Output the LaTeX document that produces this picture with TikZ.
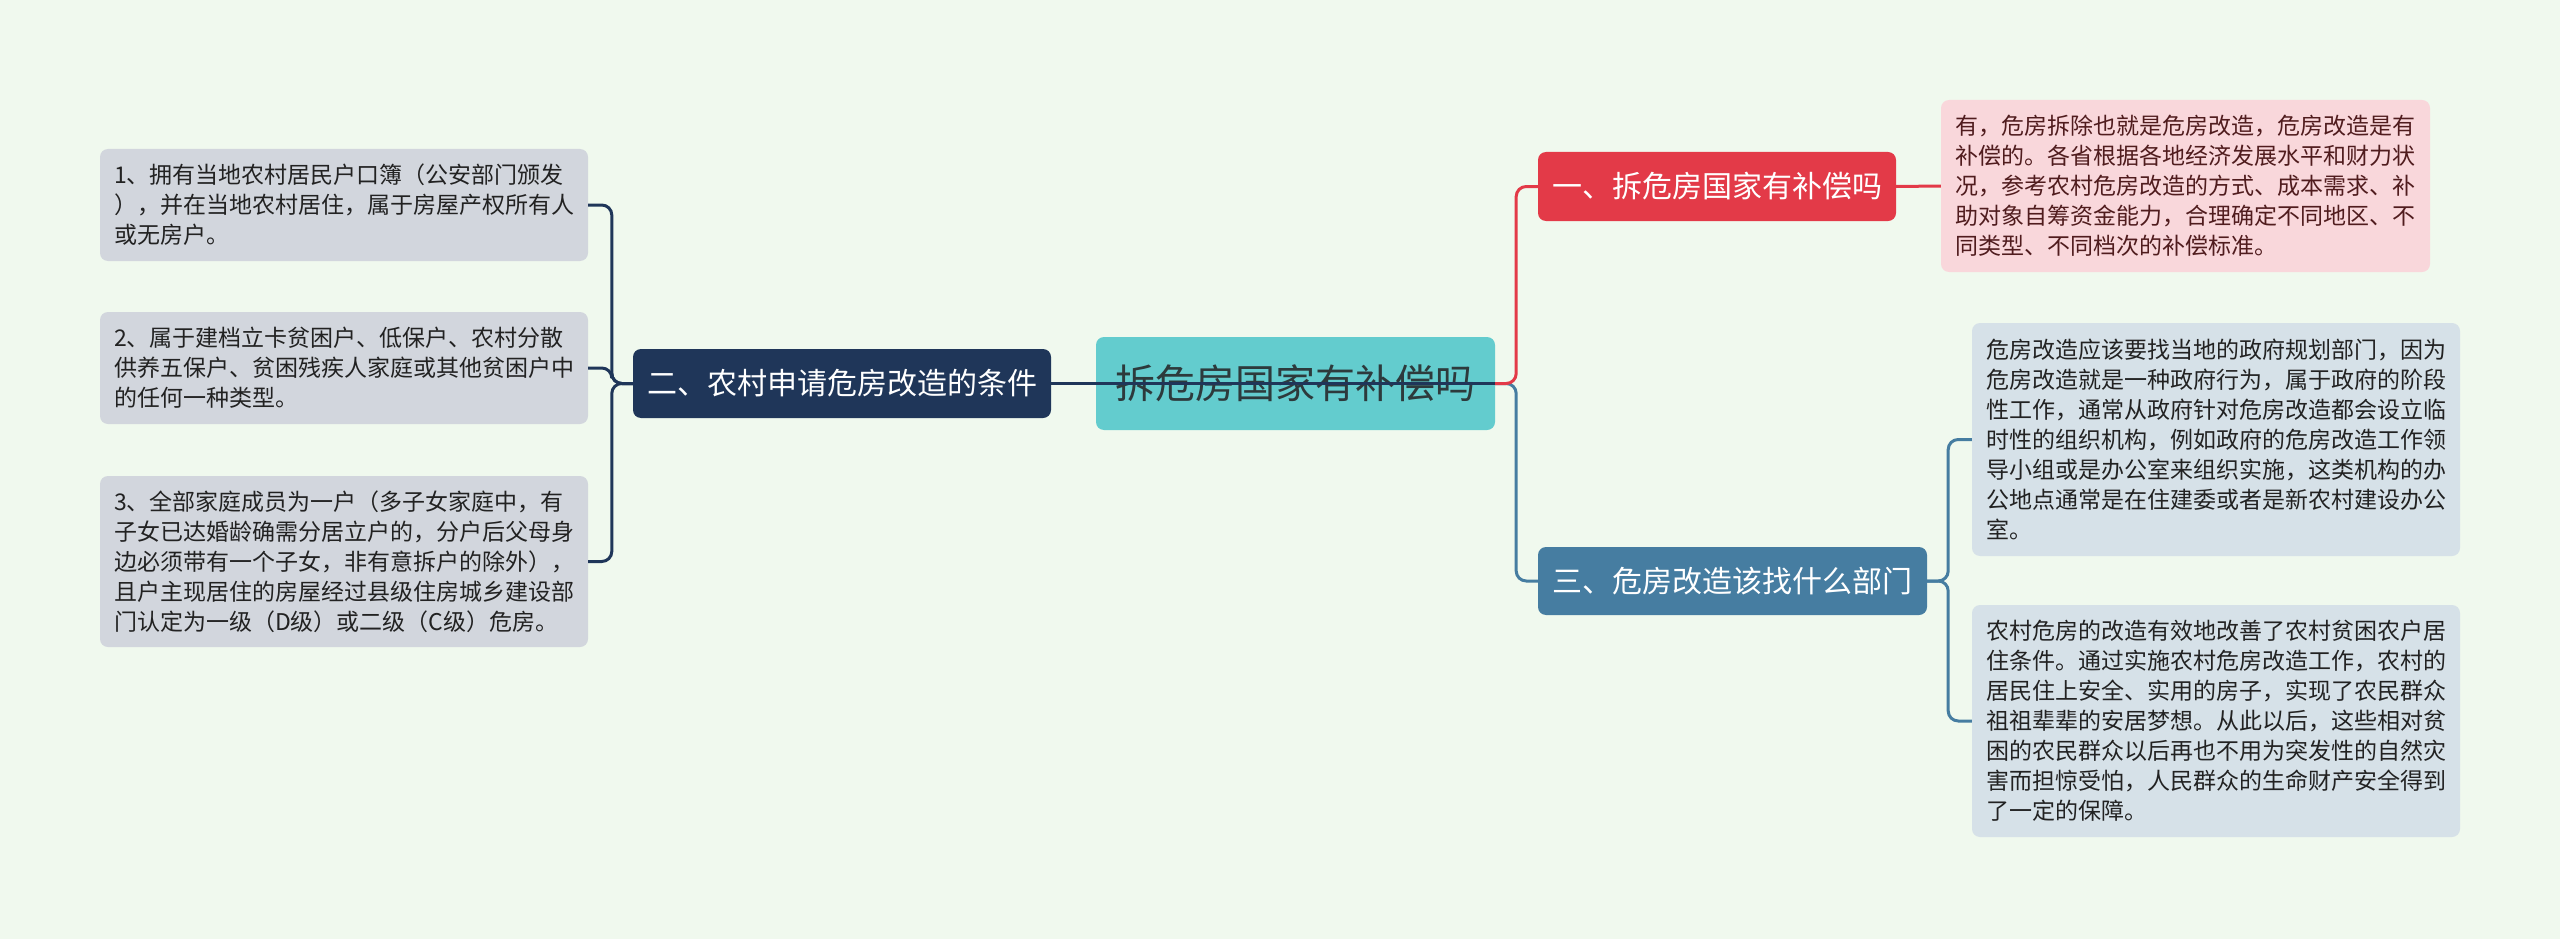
\documentclass[tikz,border=0pt]{standalone}
\usepackage{fontspec}
\setmainfont{Noto Sans CJK SC}
\definecolor{bgc}{RGB}{240,249,238}
\definecolor{rootc}{RGB}{99,204,206}
\definecolor{navyc}{RGB}{31,54,89}
\definecolor{redc}{RGB}{227,58,72}
\definecolor{bluec}{RGB}{70,125,161}
\definecolor{pinkc}{RGB}{249,215,219}
\definecolor{rgrayc}{RGB}{214,225,232}
\definecolor{lgrayc}{RGB}{210,214,221}
\definecolor{maroonc}{RGB}{80,28,30}
\definecolor{textc}{RGB}{34,34,34}
\begin{document}
\begin{tikzpicture}[x=1pt,y=-1pt,
  leaf/.style={rounded corners=8pt, inner sep=0pt, align=left, text=textc,
    font=\fontsize{23}{30}\selectfont},
  branch/.style={rounded corners=8pt, inner sep=0pt, text=white,
    font=\fontsize{30}{36}\selectfont},
  conn/.style={line width=3pt, rounded corners=10pt}]
\fill[bgc] (0,0) rectangle (2560,939);
\useasboundingbox (0,0) rectangle (2560,939);

% nodes
\node[rounded corners=8pt, inner sep=0pt, fill=rootc, text={rgb,255:red,45;green,58;blue,60},
  minimum width=399pt, minimum height=93pt, font=\fontsize{40}{46}\selectfont]
  (root) at (1295.5,383.5) {拆危房国家有补偿吗};

\node[branch, fill=navyc, minimum width=418pt, minimum height=69pt] (n2) at (842,383.5) {二、农村申请危房改造的条件};
\node[branch, fill=redc, minimum width=358pt, minimum height=69pt] (n1) at (1717,186.5) {一、拆危房国家有补偿吗};
\node[branch, fill=bluec, minimum width=389pt, minimum height=68pt] (n3) at (1732.5,581) {三、危房改造该找什么部门};

\node[leaf, fill=lgrayc, minimum width=488pt, minimum height=112pt] (L1) at (344,205)
  {1、拥有当地农村居民户口簿（公安部门颁发\\），并在当地农村居住，属于房屋产权所有人\\或无房户。};
\node[leaf, fill=lgrayc, minimum width=488pt, minimum height=112pt] (L2) at (344,368)
  {2、属于建档立卡贫困户、低保户、农村分散\\供养五保户、贫困残疾人家庭或其他贫困户中\\的任何一种类型。};
\node[leaf, fill=lgrayc, minimum width=488pt, minimum height=171pt] (L3) at (344,561.5)
  {3、全部家庭成员为一户（多子女家庭中，有\\子女已达婚龄确需分居立户的，分户后父母身\\边必须带有一个子女，非有意拆户的除外），\\且户主现居住的房屋经过县级住房城乡建设部\\门认定为一级（D级）或二级（C级）危房。};

\node[leaf, fill=pinkc, text=maroonc, minimum width=489pt, minimum height=172pt] (P1) at (2185.5,186)
  {有，危房拆除也就是危房改造，危房改造是有\\补偿的。各省根据各地经济发展水平和财力状\\况，参考农村危房改造的方式、成本需求、补\\助对象自筹资金能力，合理确定不同地区、不\\同类型、不同档次的补偿标准。};

\node[leaf, fill=rgrayc, minimum width=488pt, minimum height=233pt] (R1) at (2216,439.5)
  {危房改造应该要找当地的政府规划部门，因为\\危房改造就是一种政府行为，属于政府的阶段\\性工作，通常从政府针对危房改造都会设立临\\时性的组织机构，例如政府的危房改造工作领\\导小组或是办公室来组织实施，这类机构的办\\公地点通常是在住建委或者是新农村建设办公\\室。};
\node[leaf, fill=rgrayc, minimum width=488pt, minimum height=232pt] (R2) at (2216,721)
  {农村危房的改造有效地改善了农村贫困农户居\\住条件。通过实施农村危房改造工作，农村的\\居民住上安全、实用的房子，实现了农民群众\\祖祖辈辈的安居梦想。从此以后，这些相对贫\\困的农民群众以后再也不用为突发性的自然灾\\害而担惊受怕，人民群众的生命财产安全得到\\了一定的保障。};

% connectors, left branch
\begin{scope}[on background layer/.style={}]
\draw[conn, navyc] (n2.west) -- ++(-21,0) |- (L1.east);
\draw[conn, navyc] (n2.west) -- ++(-21,0) |- (L2.east);
\draw[conn, navyc] (n2.west) -- ++(-21,0) |- (L3.east);
% right branches
\draw[conn, bluec] (root.east) -- ++(21,0) |- (n3.west);
\draw[conn, redc] (root.east) -- ++(21,0) |- (n1.west);
\draw[conn, redc] (n1.east) -- (P1.west);
\draw[conn, bluec] (n3.east) -- ++(21,0) |- (R1.west);
\draw[conn, bluec] (n3.east) -- ++(21,0) |- (R2.west);
% root to n2, drawn over the root
\draw[conn, navyc] (root.east) -- (n2.east);
\end{scope}
\end{tikzpicture}
\end{document}
